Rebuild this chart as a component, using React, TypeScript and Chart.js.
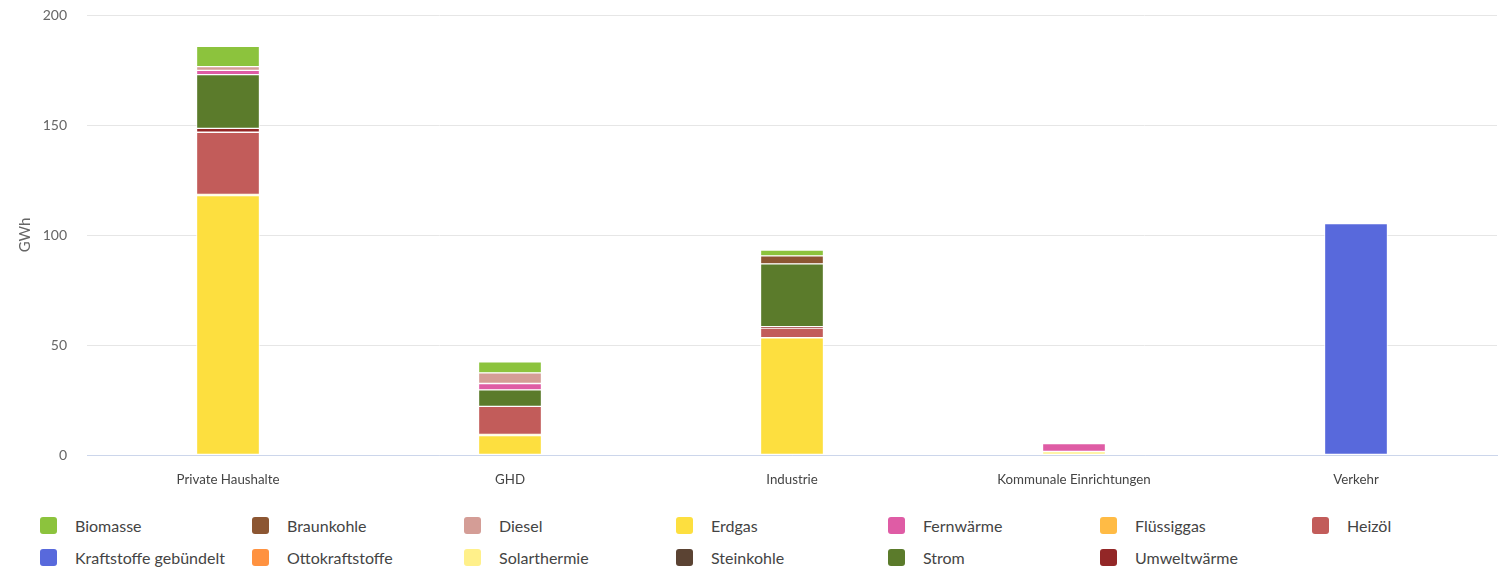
import React, { useEffect, useRef } from "react";
import { Chart, registerables } from "chart.js";

Chart.register(...registerables);

const categories = ["Private Haushalte", "GHD", "Industrie", "Kommunale Einrichtungen", "Verkehr"];

const biomasse = [9.3, 5.0, 2.7, 0, 0];
const braunkohle = [0, 0, 3.6, 0, 0];
const diesel = [1.7, 4.8, 0, 0, 0];
const erdgas = [117.9, 8.8, 53.3, 0, 0];
const fernwaerme = [1.9, 2.9, 0, 3.6, 0];
const fluessiggas = [0, 0, 0, 0, 0];
const heizoel = [28.2, 12.7, 4.4, 0, 0];
const kraftstoffeGebuendelt = [0, 0, 0, 0, 105.2];
const ottokraftstoffe = [0, 0, 0, 0, 0];
const solarthermie = [0.6, 0.6, 0, 1.6, 0];
const steinkohle = [0, 0, 0, 0, 0];
const strom = [24.4, 7.5, 28.6, 0, 0];
const umweltwaerme = [1.8, 0, 0.6, 0, 0];

const yTicks = [0, 50, 100, 150, 200];

// stacking order (bottom -> top)
const series = [
  { label: "Erdgas", data: erdgas, color: "#fddf3f" },
  { label: "Solarthermie", data: solarthermie, color: "#fff08a" },
  { label: "Heizöl", data: heizoel, color: "#c25c5a" },
  { label: "Umweltwärme", data: umweltwaerme, color: "#932727" },
  { label: "Strom", data: strom, color: "#5b7b2b" },
  { label: "Fernwärme", data: fernwaerme, color: "#df5ca5" },
  { label: "Braunkohle", data: braunkohle, color: "#8c5632" },
  { label: "Diesel", data: diesel, color: "#d49d96" },
  { label: "Biomasse", data: biomasse, color: "#8cc33d" },
  { label: "Flüssiggas", data: fluessiggas, color: "#ffbb45" },
  { label: "Kraftstoffe gebündelt", data: kraftstoffeGebuendelt, color: "#5869dc" },
  { label: "Ottokraftstoffe", data: ottokraftstoffe, color: "#ff9240" },
  { label: "Steinkohle", data: steinkohle, color: "#5b4333" },
];

const legendOrder = [
  "Biomasse", "Braunkohle", "Diesel", "Erdgas", "Fernwärme", "Flüssiggas", "Heizöl",
  "Kraftstoffe gebündelt", "Ottokraftstoffe", "Solarthermie", "Steinkohle", "Strom", "Umweltwärme",
];

const FONT = "Lato, 'Open Sans', sans-serif";

export default function App() {
  const ref = useRef<HTMLCanvasElement | null>(null);

  useEffect(() => {
    if (!ref.current) return;
    const chart = new Chart(ref.current, {
      type: "bar",
      data: {
        labels: categories,
        datasets: series.map((s) => ({
          label: s.label,
          data: s.data,
          backgroundColor: s.color,
          borderColor: "rgba(255,255,255,0.85)",
          borderWidth: 1,
          borderSkipped: false,
          barThickness: 63,
        })),
      },
      options: {
        animation: false,
        responsive: false,
        layout: { padding: { left: 0, right: 7, top: 15, bottom: 0 } },
        plugins: {
          legend: { display: false },
          tooltip: { enabled: false },
        },
        scales: {
          x: {
            stacked: true,
            grid: { display: false, drawTicks: false },
            border: { display: true, color: "#ccd6eb", width: 1 },
            ticks: { color: "#444", font: { family: FONT, size: 13.3 }, padding: 17 },
            afterFit: (scale: any) => {
              scale.height = 40;
              scale.paddingLeft = 0;
              scale.paddingRight = 0;
            },
          },
          y: {
            stacked: true,
            min: 0,
            max: 200,
            afterBuildTicks: (scale: any) => {
              scale.ticks = yTicks.map((v) => ({ value: v }));
            },
            afterFit: (scale: any) => {
              scale.width = 87;
              scale.paddingTop = 0;
              scale.paddingBottom = 0;
            },
            grid: { color: "#e6e6e6", drawTicks: false },
            border: { display: false },
            ticks: { color: "#666", font: { family: FONT, size: 14 }, padding: 20 },
            title: {
              display: true,
              text: "GWh",
              color: "#666",
              font: { family: FONT, size: 15 },
              padding: { top: 16, bottom: 0 },
            },
          },
        },
      },
    });
    return () => chart.destroy();
  }, []);

  const legendItems = legendOrder.map((name) => series.find((s) => s.label === name)!);

  return (
    <div style={{ position: "fixed", left: 0, top: 0, width: 1504, height: 567, background: "#fff", overflow: "hidden" }}>
      <canvas ref={ref} width={1504} height={495} style={{ display: "block" }} />
      <div
        style={{
          position: "absolute",
          left: 40,
          top: 509,
          display: "grid",
          gridTemplateColumns: "repeat(7, 212px)",
          gridAutoRows: "32px",
          fontFamily: FONT,
          fontSize: 16,
          color: "#444",
        }}
      >
        {legendItems.map((s) => (
          <div key={s.label} style={{ display: "flex", alignItems: "center", height: 32 }}>
            <span
              style={{
                width: 17,
                height: 17,
                borderRadius: 3,
                background: s.color,
                display: "inline-block",
                marginRight: 18,
                flex: "none",
              }}
            />
            <span style={{ whiteSpace: "nowrap" }}>{s.label}</span>
          </div>
        ))}
      </div>
    </div>
  );
}
